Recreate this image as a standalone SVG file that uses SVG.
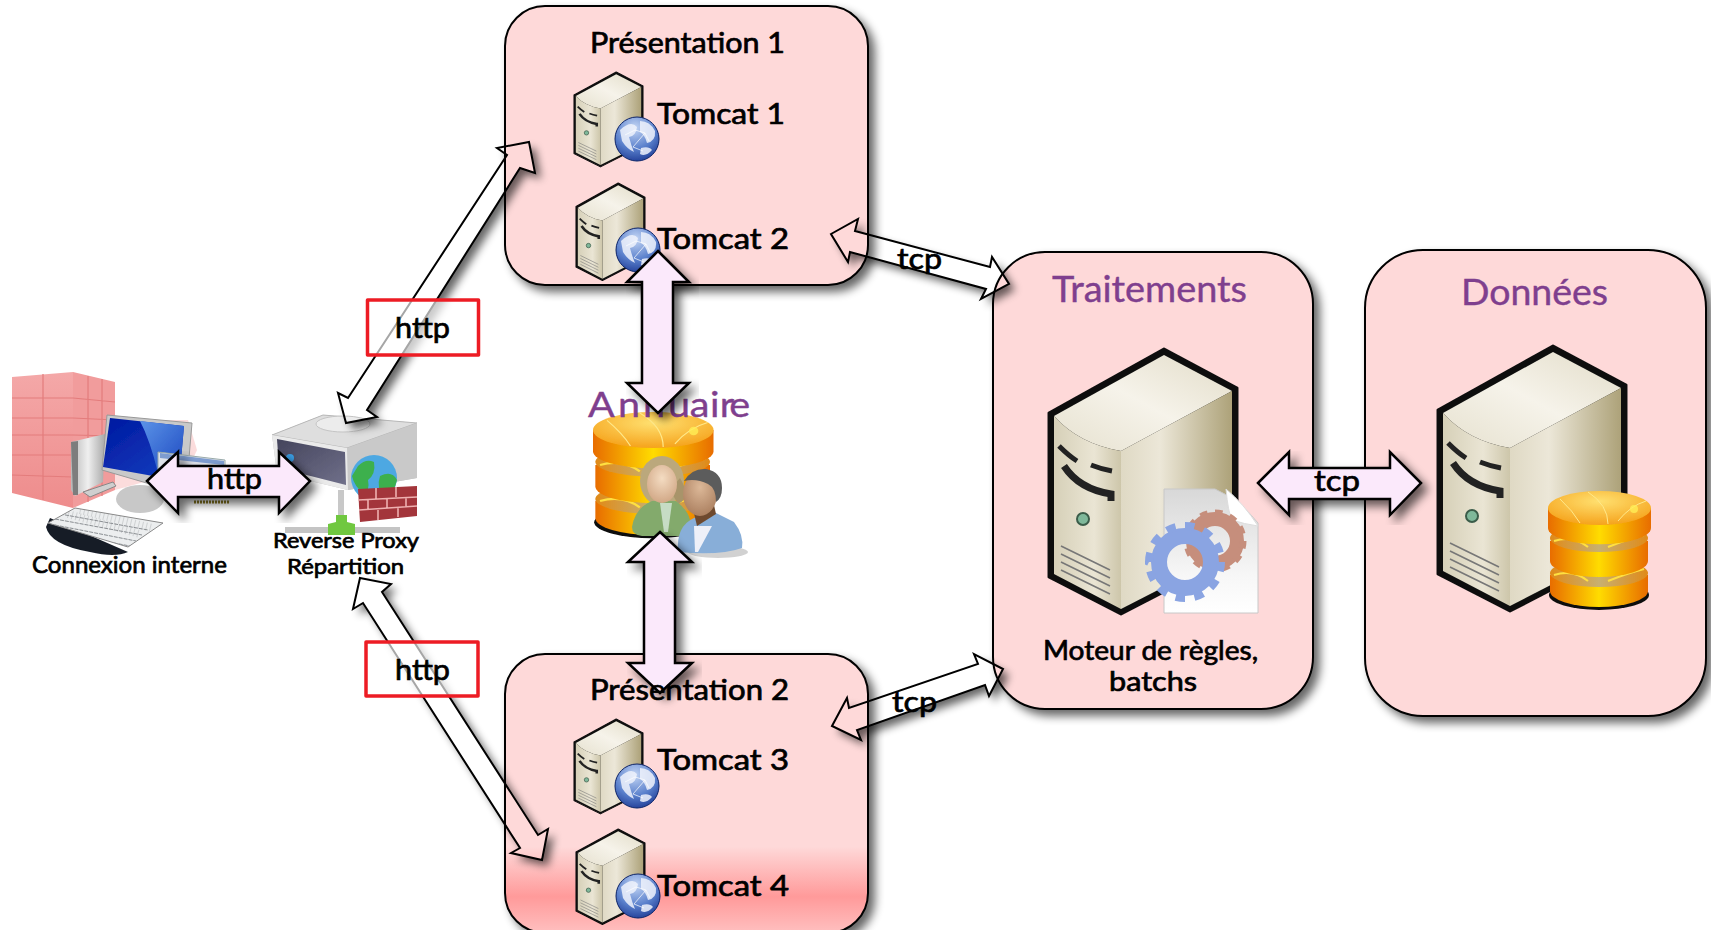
<svg xmlns="http://www.w3.org/2000/svg" width="1711" height="930" viewBox="0 0 1711 930">
<style>
text{font-family:"Lato","Liberation Sans",sans-serif;fill:#000;stroke:#000;stroke-width:.7;text-anchor:start}
.pu{fill:#7f3f8e;stroke:#7f3f8e;stroke-width:.4}
.box{stroke:#000;stroke-width:2;filter:url(#sh)}
.thick{fill:#fbe9fb;stroke:#000;stroke-width:2.5;stroke-linejoin:miter}
.thinS{fill:#000;stroke:none;filter:url(#outer)}
.thin{fill:none;stroke:#000;stroke-width:2;stroke-linejoin:miter}
.red{fill:#fff;fill-opacity:.65;stroke:#ed1c24;stroke-width:3.5;stroke-linejoin:round}
.soft{filter:url(#soft)}
</style>
<defs>
<filter id="sh" x="-10%" y="-10%" width="125%" height="125%"><feGaussianBlur in="SourceAlpha" stdDeviation="5"/><feOffset dx="6" dy="6"/><feComponentTransfer><feFuncA type="linear" slope=".6"/></feComponentTransfer><feMerge><feMergeNode/><feMergeNode in="SourceGraphic"/></feMerge></filter>
<filter id="outer" filterUnits="userSpaceOnUse" x="0" y="0" width="1711" height="930"><feGaussianBlur in="SourceAlpha" stdDeviation="4"/><feOffset dx="6" dy="6" result="o"/><feComposite in="o" in2="SourceAlpha" operator="out" result="c"/><feComponentTransfer in="c"><feFuncA type="linear" slope=".6"/></feComponentTransfer></filter>
<filter id="soft" x="-10%" y="-10%" width="120%" height="120%"><feGaussianBlur stdDeviation=".6"/></filter>
<linearGradient id="g2" gradientUnits="userSpaceOnUse" x1="0" y1="654" x2="0" y2="933"><stop offset="0" stop-color="#fed9d9"/><stop offset=".69" stop-color="#fed9d9"/><stop offset=".87" stop-color="#ff9a9a"/><stop offset="1" stop-color="#ffc0c0"/></linearGradient>
<linearGradient id="sTop" x1="0" y1="1" x2="1" y2="0"><stop offset="0" stop-color="#e6e1cf"/><stop offset=".5" stop-color="#f6f3ea"/><stop offset="1" stop-color="#e2dcc8"/></linearGradient>
<linearGradient id="sRight" x1="0" y1="0" x2="1" y2="0"><stop offset="0" stop-color="#dfd9c4"/><stop offset=".35" stop-color="#ece7d8"/><stop offset="1" stop-color="#ada279"/></linearGradient>
<linearGradient id="sFront" x1="0" y1="0" x2="1" y2="0"><stop offset="0" stop-color="#d6d0b8"/><stop offset=".6" stop-color="#eae5d4"/><stop offset="1" stop-color="#cdc6aa"/></linearGradient>
<radialGradient id="glob" cx=".45" cy=".25" r=".85"><stop offset="0" stop-color="#c4d6f4"/><stop offset=".55" stop-color="#5a80cc"/><stop offset="1" stop-color="#14308c"/></radialGradient>
<linearGradient id="dbBody" x1="0" y1="0" x2="1" y2="0"><stop offset="0" stop-color="#e86c00"/><stop offset=".5" stop-color="#ffdc00"/><stop offset="1" stop-color="#e86c00"/></linearGradient>
<radialGradient id="dbTop" cx=".5" cy=".3" r=".8"><stop offset="0" stop-color="#ffe070"/><stop offset="1" stop-color="#f49a10"/></radialGradient>
<linearGradient id="band" x1="0" y1="0" x2="1" y2="0"><stop offset="0" stop-color="#e08a18"/><stop offset=".5" stop-color="#c8b070"/><stop offset="1" stop-color="#e08a18"/></linearGradient>
<linearGradient id="doc" x1="0" y1="0" x2="0" y2="1"><stop offset="0" stop-color="#d8d8d8"/><stop offset=".7" stop-color="#f7f7f7"/><stop offset="1" stop-color="#fff"/></linearGradient>
<linearGradient id="bld" x1="0" y1="0" x2="0" y2="1"><stop offset="0" stop-color="#f4a8a8"/><stop offset="1" stop-color="#ee8c8c"/></linearGradient>
<linearGradient id="scr" x1="0" y1="0" x2="1" y2="1"><stop offset="0" stop-color="#0018a0"/><stop offset="1" stop-color="#1440c0"/></linearGradient>
<linearGradient id="refl" x1="0" y1="0" x2="1" y2="1"><stop offset="0" stop-color="#5c94e8"/><stop offset="1" stop-color="#1c48c0"/></linearGradient>
<linearGradient id="grey" x1="0" y1="0" x2="1" y2="0"><stop offset="0" stop-color="#b8b8b8"/><stop offset=".5" stop-color="#efefef"/><stop offset="1" stop-color="#a8a8a8"/></linearGradient>
<linearGradient id="panel" x1="0" y1="0" x2="1" y2="1"><stop offset="0" stop-color="#44445c"/><stop offset="1" stop-color="#70708a"/></linearGradient>
<radialGradient id="skinF" cx=".5" cy=".35" r=".7"><stop offset="0" stop-color="#f4dcc2"/><stop offset="1" stop-color="#cfa482"/></radialGradient>
<radialGradient id="skinM" cx=".5" cy=".35" r=".7"><stop offset="0" stop-color="#dcb898"/><stop offset="1" stop-color="#a87c5c"/></radialGradient>
<clipPath id="kbd"><path d="M48 523L75 508L163 523L128 547Z"/></clipPath>
<g id="server">
<path d="M0 64L115 0L188 39V205L72 265L0 228Z" fill="#111" stroke="#111" stroke-width="3" stroke-linejoin="round"/>
<path d="M5 67L115 6L183 42L72 102Q30 95 5 67Z" fill="url(#sTop)"/>
<path d="M72 102L183 42V203L72 260Z" fill="url(#sRight)"/>
<path d="M5 67Q30 95 72 102V260L5 225Z" fill="url(#sFront)"/>
<g fill="none" stroke="#222">
<path d="M10 97Q20 107 28 112" stroke-width="5"/><path d="M42 116Q52 120 63 122" stroke-width="5"/>
<path d="M15 117Q30 140 62 145V152" stroke-width="7"/>
<path d="M12 197L61 221M12 205L61 229M12 213L61 237M12 221L61 245" stroke="#777" stroke-width="1.6"/>
</g>
<circle cx="34" cy="170" r="6" fill="#7fb89a" stroke="#3b5c4a" stroke-width="2"/>
</g>
<g id="globe">
<circle r="22" fill="url(#glob)"/>
<path d="M-17-9Q-6-19 0-12Q-1-3-8-2Q-6 6-3 13Q-10 10-15 2ZM3-18Q13-18 18-8Q19 2 10 4Q8-4 3-7ZM4 9Q12 7 15 11Q9 18 3 15Z" fill="#eef2fc" opacity=".85"/>
<path d="M-12-4L-2-9L8-6L-4 8L6 12M8-6L12 2" stroke="#fff" stroke-width=".7" fill="none"/>
<circle r="22" fill="none" stroke="#0e2468" stroke-width="1"/>
</g>
<g id="db">
<ellipse cx="51" cy="104" rx="50" ry="15" fill="#111"/>
<path d="M2 84V100A49 16 0 0 0 100 100V84Z" fill="url(#dbBody)"/>
<ellipse cx="51" cy="82" rx="49" ry="14" fill="url(#band)"/>
<path d="M6 84Q25 78 40 90M60 90Q80 82 96 78" fill="none" stroke="#ffe040" stroke-width="2"/>
<path d="M2 50V70A49 16 0 0 0 100 70V50Z" fill="url(#dbBody)"/>
<ellipse cx="51" cy="47" rx="49" ry="14" fill="url(#band)"/>
<path d="M6 50Q25 44 40 56M60 56Q80 48 96 44" fill="none" stroke="#ffe040" stroke-width="2"/>
<path d="M0 17V37A51 16 0 0 0 103 37V17Z" fill="url(#dbBody)"/>
<ellipse cx="51.500" cy="17" rx="51.500" ry="17" fill="url(#dbTop)"/>
<path d="M12 8Q25 20 32 32M40 1Q60 14 60 33M70 30Q82 15 98 10" fill="none" stroke="#ffe98a" stroke-width="1"/>
<circle cx="86" cy="18" r="4" fill="#ffee55" opacity=".8"/>
</g>
</defs>

<g id="presentation-1">
<rect class="box" x="505" y="6" width="363" height="279" rx="40" fill="#fed9d9"/>
<g class="soft"><use href="#server" transform="translate(574 72) scale(.367 .358)"/>
<use href="#globe" transform="translate(637 139)"/>
<use href="#server" transform="translate(576 183) scale(.367 .368)"/>
<use href="#globe" transform="translate(638 250)"/></g>
<text x="590" y="53" font-size="28" textLength="195" lengthAdjust="spacingAndGlyphs">Présentation 1</text>
<text x="657" y="124" font-size="28" textLength="128" lengthAdjust="spacingAndGlyphs">Tomcat 1</text>
<text x="657" y="249" font-size="28" textLength="132" lengthAdjust="spacingAndGlyphs">Tomcat 2</text>
</g>

<g id="presentation-2">
<rect class="box" x="505" y="654" width="363" height="279" rx="40" fill="url(#g2)"/>
<g class="soft"><use href="#server" transform="translate(574 719) scale(.367 .358)"/>
<use href="#globe" transform="translate(637 786)"/>
<use href="#server" transform="translate(576 829) scale(.367 .36)"/>
<use href="#globe" transform="translate(638 896)"/></g>
<text x="657" y="770" font-size="28" textLength="132" lengthAdjust="spacingAndGlyphs">Tomcat 3</text>
<text x="657" y="896" font-size="28" textLength="132" lengthAdjust="spacingAndGlyphs">Tomcat 4</text>
</g>

<g id="traitements">
<rect class="box" x="993" y="252" width="320" height="457" rx="52" fill="#fed9d9"/>
<text class="pu" x="1052" y="302" font-size="36" textLength="195" lengthAdjust="spacingAndGlyphs">Traitements</text>
<g class="soft">
<use href="#server" transform="translate(1049 349)"/>
<path d="M1164 489H1215Q1240 500 1258 523V613H1164Z" fill="url(#doc)" stroke="#c8c8c8" stroke-width="1"/>
<path d="M1226 489Q1228 512 1232 520Q1244 524 1258 526Q1244 504 1226 489Z" fill="#fff" stroke="#ddd"/>
<circle cx="1215" cy="541" r="22" fill="none" stroke="#c68e7c" stroke-width="14"/>
<circle cx="1215" cy="541" r="28" fill="none" stroke="#c68e7c" stroke-width="7" pathLength="24" stroke-dasharray="1 1"/>
<circle cx="1185" cy="562" r="26" fill="none" stroke="#8aa4e2" stroke-width="16"/>
<circle cx="1185" cy="562" r="36" fill="none" stroke="#8aa4e2" stroke-width="8" pathLength="24" stroke-dasharray="1 1"/>
</g>
<text x="1043" y="660" font-size="26" textLength="215" lengthAdjust="spacingAndGlyphs">Moteur de règles,</text>
<text x="1109" y="691" font-size="26" textLength="88" lengthAdjust="spacingAndGlyphs">batchs</text>
</g>

<g id="donnees">
<rect class="box" x="1365" y="250" width="341" height="466" rx="58" fill="#fed9d9"/>
<text class="pu" x="1461" y="305" font-size="36" textLength="147" lengthAdjust="spacingAndGlyphs">Données</text>
<g class="soft"><use href="#server" transform="translate(1438 346)"/>
<use href="#db" transform="translate(1548 491)"/></g>
</g>

<g id="annuaire">
<g class="soft">
<use href="#db" transform="translate(593 412) scale(1.17 1.06)"/>
<ellipse cx="718" cy="552" rx="30" ry="6" fill="#000" opacity=".18"/>
<ellipse cx="662" cy="481" rx="22" ry="25" fill="#bba87c"/>
<path d="M680 478Q692 498 678 504L670 490Z" fill="#a8946a"/>
<path d="M632 527Q635 508 652 501L676 501Q688 510 690 520L682 536L642 536Q632 535 632 527Z" fill="#83aa6c"/>
<path d="M660 503H672L668 532H664Z" fill="#c6dcc4"/>
<ellipse cx="662" cy="484" rx="15" ry="19" fill="url(#skinF)"/>
<path d="M678 552Q676 526 694 518L712 511L734 522Q744 535 742 548Q720 556 678 552Z" fill="#88aed8"/>
<path d="M694 526L712 526L698 552H695Z" fill="#eef0f8"/>
<path d="M692 505L714 505L716 514L697 526Z" fill="#6e4a2e"/>
<ellipse cx="700" cy="494" rx="17" ry="22" fill="url(#skinM)"/>
<path d="M684 481Q692 468 706 469Q722 472 722 488Q722 498 716 502Q716 488 708 484Q696 478 684 481Z" fill="#5c5c5c"/>
</g>
<text class="pu" transform="translate(588 417) scale(1.13 1)" x="0 26.500 48.700 70.800 90 108 116.500 125" y="0" font-size="35">Annuaire</text>
</g>

<g id="connexion-interne">
<g class="soft">
<path d="M115 420H188L197 450L188 470L115 490Z" fill="#f8c4c4" opacity=".6"/>
<path d="M12 377L73 372V508L12 493Z" fill="url(#bld)"/>
<path d="M73 372L115 382V490L73 508Z" fill="#f19c9c"/>
<path d="M43 374V500M88 376V502M102 379V496M12 398L73 398M12 418L73 418M12 435L73 435M12 455L73 455M12 475L73 477M73 398L115 402M73 418L115 420M73 435L115 436M73 455L115 455" stroke="#e37c7c" stroke-width="1.2" fill="none"/>
<path d="M71 442L105 434L103 482L83 492L75 496L71 490Z" fill="url(#grey)"/>
<path d="M71 442L78 441V495L73 495Z" fill="#7d7d7d"/>
<path d="M83 492L113 482L116 486L90 497Z" fill="#cfcfcf" stroke="#888"/>
<ellipse cx="140" cy="499" rx="24" ry="14" fill="#c8c8c8"/>
<path d="M107 415L192 423L189 458L150 484L102 470Z" fill="#c9c9c9" stroke="#999"/>
<path d="M110 418L184 426L181 460L153 476L103 467Z" fill="url(#scr)"/>
<path d="M140 421L184 426L181 460L158 473Q150 440 140 421Z" fill="url(#refl)"/>
<path d="M158 452L225 460V476L158 476Z" fill="#dfe3ea" stroke="#9aa"/>
<path d="M160 453L224 461V465L160 458Z" fill="#7e9ccf"/>
<path d="M194 502H230" stroke="#8a7a20" stroke-width="3" stroke-dasharray="2 1"/>
<path d="M46 527Q50 545 90 552Q115 558 128 552L50 518Z" fill="#161d28"/>
<path d="M48 523L75 508L163 523L128 547Z" fill="#eceeef" stroke="#888"/>
<g clip-path="url(#kbd)" fill="none" stroke="#8a8e92" stroke-width="1"><path d="M60 514L148 530M55 519L142 535M50 524L136 541M45 530L130 546" stroke-dasharray="4 1"/><path d="M68 514L140 534M80 510L152 528" stroke-dasharray="1 3" stroke-width="8" opacity=".3"/></g>
</g>
<text x="32" y="573" font-size="23" textLength="195" lengthAdjust="spacingAndGlyphs">Connexion interne</text>
</g>

<g id="reverse-proxy">
<g class="soft">
<path d="M272 435L323 415L417 423V478L348 490L277 473Z" fill="#c4c4c4"/>
<path d="M272 435L323 415L417 423L347 448Z" fill="#dedede" stroke="#b8b8b8"/>
<ellipse cx="343" cy="424" rx="27" ry="8" fill="#ececec" stroke="#c4c4c4"/>
<path d="M347 448L417 423V478L348 490Z" fill="#c9c9c9"/>
<path d="M272 435L347 448L348 490L277 473Z" fill="#eaeaea"/>
<path d="M277 439L345 452L346 485L279 468Z" fill="url(#panel)"/>
<circle cx="290" cy="458" r="4" fill="#3aa0e8"/>
<rect x="338" y="490" width="6" height="36" fill="#c8c8c8"/>
<rect x="285" y="527" width="115" height="6" fill="#c4c4c4"/>
<path d="M336 515H347V522L355 524V535H328V524L336 522Z" fill="#70c840"/>
<circle cx="374" cy="478" r="23" fill="#4ea8e2"/>
<path d="M358 466Q366 458 374 462Q376 474 368 480Q370 490 364 494Q354 486 352 476ZM380 476Q392 470 397 480Q394 494 384 498Q376 488 380 476Z" fill="#3eb04e"/>
<path d="M358 489L417 486V516L360 522Z" fill="#a3343a"/>
<path d="M358 500L417 497M359 510L417 506M376 488V499M396 487V497M368 500V510M387 499V508M406 497V507M378 510V520M398 507V517" stroke="#eeb0b0" stroke-width="1.6" fill="none"/>
</g>
<text x="273" y="548" font-size="21" textLength="146" lengthAdjust="spacingAndGlyphs">Reverse Proxy</text>
<text x="287" y="574" font-size="21" textLength="117" lengthAdjust="spacingAndGlyphs">Répartition</text>
</g>

<g id="connectors">
<g id="c-http-1">
<polygon class="thinS" points="529,142 535,173 520,168 367,410 377,417 346,423 338,393 348,398 507,155 497,148"/>
<polygon class="thin" points="529,142 535,173 520,168 367,410 377,417 346,423 338,393 348,398 507,155 497,148"/>
</g>
<g id="c-http-2">
<polygon class="thinS" points="360,578 391,584 382,592 538,835 548,829 542,860 511,853 520,848 363,603 353,609"/>
<polygon class="thin" points="360,578 391,584 382,592 538,835 548,829 542,860 511,853 520,848 363,603 353,609"/>
</g>
<g id="c-tcp-1">
<polygon class="thinS" points="831,234 858,219 855,231 990,267 992,257 1009,284 981,299 986,289 850,252 848,262"/>
<polygon class="thin" points="831,234 858,219 855,231 990,267 992,257 1009,284 981,299 986,289 850,252 848,262"/>
</g>
<g id="c-tcp-2">
<polygon class="thinS" points="832,726 847,698 849,708 978,664 974,654 1003,669 989,696 985,685 857,730 861,740"/>
<polygon class="thin" points="832,726 847,698 849,708 978,664 974,654 1003,669 989,696 985,685 857,730 861,740"/>
</g>
<g id="c-http-h"><polygon class="thick" style="filter:url(#sh)" points="147,481 178,452 178,466 279,466 279,452 310,481 279,513 279,497 178,497 178,513"/></g>
<g id="c-tcp-h"><polygon class="thick" style="filter:url(#sh)" points="1258,483 1289,452 1289,468 1390,468 1390,452 1421,483 1390,515 1390,499 1289,499 1289,515"/></g>
<g id="c-annuaire-1"><polygon class="thick" style="filter:url(#sh)" points="658,251 689,282 673,282 673,383 689,383 658,413 627,383 642,383 642,282 627,282"/></g>
<g id="c-annuaire-2"><polygon class="thick" style="filter:url(#sh)" points="660,532 692,562 675,562 675,663 692,663 660,693 628,663 644,663 644,562 628,562"/></g>
<rect class="red" x="367.500" y="300" width="111" height="55"/>
<rect class="red" x="366" y="642" width="112" height="54"/>
<text x="207" y="489" font-size="29" textLength="55" lengthAdjust="spacingAndGlyphs">http</text>
<text x="395" y="338" font-size="29" textLength="55" lengthAdjust="spacingAndGlyphs">http</text>
<text x="395" y="680" font-size="29" textLength="55" lengthAdjust="spacingAndGlyphs">http</text>
<text x="1314" y="491" font-size="29" textLength="46" lengthAdjust="spacingAndGlyphs">tcp</text>
<text x="897" y="269" font-size="29" textLength="45" lengthAdjust="spacingAndGlyphs">tcp</text>
<text x="892" y="712" font-size="29" textLength="45" lengthAdjust="spacingAndGlyphs">tcp</text>
</g>

<g id="presentation-2-title">
<text x="590" y="700" font-size="28" textLength="199" lengthAdjust="spacingAndGlyphs">Présentation 2</text>
</g>
</svg>
